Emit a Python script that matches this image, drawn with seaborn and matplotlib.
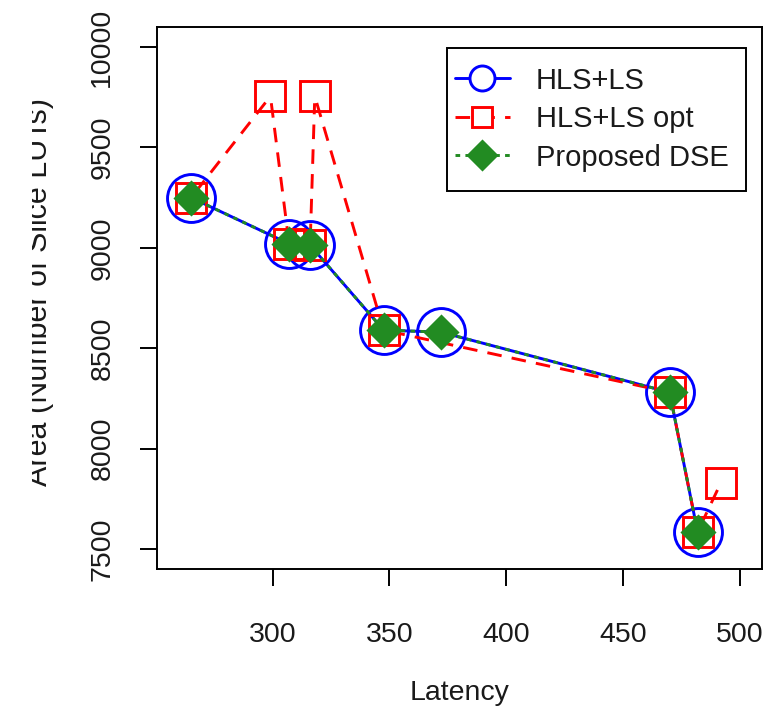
import numpy as np
import pandas as pd
import matplotlib
matplotlib.use("Agg")
import matplotlib.pyplot as plt
import seaborn as sns
from matplotlib.lines import Line2D
from matplotlib.patches import Rectangle
from matplotlib.transforms import Bbox, TransformedBbox

# Design points: latency vs. area for each exploration method
latency_ls = [265, 307, 316, 347.5, 372, 470, 482]
area_ls = [9250, 9020, 9013, 8590, 8580, 8280, 7585]

latency_opt = [265, 299, 307, 316, 318, 347.5, 470, 482, 492]
area_opt = [9250, 9755, 9020, 9013, 9755, 8590, 8280, 7585, 7830]

latency_dse = [265, 307, 316, 347.5, 372, 470, 482]
area_dse = [9250, 9020, 9013, 8590, 8580, 8280, 7585]

series_names = ["HLS+LS", "HLS+LS opt", "Proposed DSE"]
x_ticks = [300, 350, 400, 450, 500]
y_ticks = [7500, 8000, 8500, 9000, 9500, 10000]

sns.set_theme(style="white")
plt.rcParams["font.family"] = ["Liberation Sans", "DejaVu Sans"]
FS = 20.5
TXT = "#1a1a1a"

W, H = 782, 714
fig = plt.figure(figsize=(W / 100, H / 100), dpi=100)
L, R, T, B = 157, 762, 27, 569
ax = fig.add_axes([L / W, 1 - B / H, (R - L) / W, (B - T) / H])
ax.set_xlim(250.4, 509.6)
ax.set_ylim(7400, 10100)

data = {
    series_names[0]: pd.DataFrame({"Latency": latency_ls, "Area": area_ls}),
    series_names[1]: pd.DataFrame({"Latency": latency_opt, "Area": area_opt}),
    series_names[2]: pd.DataFrame({"Latency": latency_dse, "Area": area_dse}),
}

styles = {
    series_names[0]: dict(color="#0000FF", marker="o", ms=34.5, mfc="none",
                          dashes=None, z=2, leg_ms=18),
    series_names[1]: dict(color="#FF0000", marker="s", ms=22, mfc="none",
                          dashes=(5, 3.5), z=3, leg_ms=15),
    series_names[2]: dict(color="#228B22", marker="D", ms=15.8, mfc="#228B22",
                          dashes=(1.6, 1.8), z=4, leg_ms=14.3),
}

LW = 2.1
MEW = 2.1
GAP = 7  # pixels left open around each point, like type="b"


def gapped_segments(xs, ys, gap_px):
    pts = ax.transData.transform(np.column_stack([xs, ys]))
    inv = ax.transData.inverted()
    segs = []
    for p, q in zip(pts[:-1], pts[1:]):
        d = q - p
        n = np.hypot(*d)
        if n <= 2 * gap_px:
            continue
        u = d / n
        segs.append(inv.transform(np.array([p + u * gap_px, q - u * gap_px])))
    return segs


for name, df in data.items():
    st = styles[name]
    # connecting segments
    for seg in gapped_segments(df["Latency"].values, df["Area"].values, GAP):
        line, = ax.plot(seg[:, 0], seg[:, 1], color=st["color"], lw=LW,
                        zorder=st["z"], solid_capstyle="butt", dash_capstyle="butt")
        if st["dashes"] is not None:
            line.set_dashes(st["dashes"])
    # point markers
    sns.lineplot(data=df, x="Latency", y="Area", ax=ax, sort=False, estimator=None,
                 linestyle="", marker=st["marker"], markersize=st["ms"],
                 markerfacecolor=st["mfc"], markeredgecolor=st["color"],
                 markeredgewidth=MEW, color=st["color"], zorder=st["z"] + 0.5,
                 legend=False)

ax.set_xlim(250.4, 509.6)
ax.set_ylim(7400, 10100)

# axes frame and ticks
for sp in ax.spines.values():
    sp.set_color("black")
    sp.set_linewidth(1.4)
ax.set_xticks(x_ticks)
ax.set_yticks(y_ticks)
ax.set_xticklabels([str(v) for v in x_ticks], fontsize=FS, color=TXT)
ax.set_yticklabels([str(v) for v in y_ticks], fontsize=FS, color=TXT,
                   rotation=90, va="center")
ax.tick_params(axis="both", direction="out", length=12, width=1.4, color="black",
               bottom=True, left=True)
ax.tick_params(axis="x", pad=26)
ax.tick_params(axis="y", pad=18)

ax.set_xlabel("Latency", fontsize=FS, color=TXT)
ax.xaxis.set_label_coords(0.5, (B - 693) / (B - T))
ax.xaxis.label.set_va("center")

ax.set_ylabel("Area (Number of Slice LUTs)", fontsize=22, color=TXT)
ylab = ax.yaxis.label
ylab.set_rotation_mode("anchor")
ylab.set_va("baseline")
ylab.set_ha("center")
ax.yaxis.set_label_coords((46.7 - L) / (R - L), (B - 292) / (B - T))
ylab.set_clip_box(TransformedBbox(Bbox([[32 / W, 0], [1, 1]]), fig.transFigure))
ylab.set_clip_on(True)

# legend: box drawn separately, entries placed inside it
box = Rectangle(((447 - L) / (R - L), (B - 191) / (B - T)),
                (746 - 447) / (R - L), (191 - 48) / (B - T),
                transform=ax.transAxes, facecolor="white", edgecolor="black",
                lw=1.4, zorder=6)
ax.add_patch(box)

handles = []
for name in series_names:
    st = styles[name]
    h = Line2D([], [], color=st["color"], lw=LW, marker=st["marker"],
               markersize=st["leg_ms"], markeredgewidth=MEW,
               markerfacecolor="white" if st["mfc"] == "none" else st["mfc"],
               markeredgecolor=st["color"])
    if st["dashes"] is not None:
        h.set_dashes(st["dashes"])
    handles.append(h)
leg = ax.legend(handles, series_names, loc="center left",
                bbox_to_anchor=((455 - L) / (R - L), (B - 119) / (B - T)),
                fontsize=21, frameon=False, handlelength=1.88, handletextpad=0.89,
                labelspacing=0.36, borderpad=0, borderaxespad=0)
leg.set_zorder(7)
for t in leg.get_texts():
    t.set_color(TXT)

fig.savefig("out.png", dpi=100)
